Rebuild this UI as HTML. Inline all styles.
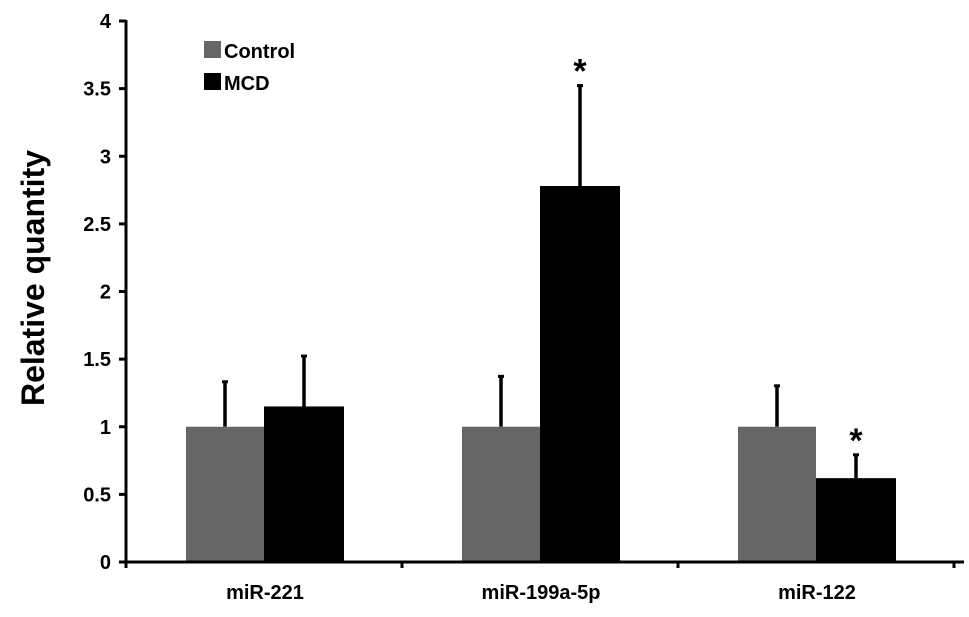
<!DOCTYPE html>
<html><head><meta charset="utf-8"><style>body{margin:0;background:#fff}svg{display:block}text{font-family:"Liberation Sans",Arial,sans-serif;font-weight:bold}</style></head>
<body>
<svg id="chart" width="969" height="617" xmlns="http://www.w3.org/2000/svg">
<text transform="translate(44,278) rotate(-90)" text-anchor="middle" font-size="32">Relative quantity</text>
<g id="plot"></g>
<g>
<rect x="204" y="41" width="17" height="17" fill="#666"/>
<text x="224" y="58" font-size="20">Control</text>
<rect x="204" y="73" width="17" height="17" fill="#000"/>
<text x="224" y="90" font-size="20">MCD</text>
</g>
</svg>
<script>
const categories=["miR-221","miR-199a-5p","miR-122"];
const controlVals=[1,1,1];
const controlErr=[0.34,0.38,0.31];
const mcdVals=[1.15,2.78,0.62];
const mcdErr=[0.38,0.75,0.18];
const sig=[false,true,true];
const yTicks=[0,0.5,1,1.5,2,2.5,3,3.5,4];
const yTickLabels=["0","0.5","1","1.5","2","2.5","3","3.5","4"];
const NS="http://www.w3.org/2000/svg";
const g=document.getElementById('plot');
const x0=126,y0=562,yTop=21,yMax=4,groupW=276;
function y(v){return y0-(v/yMax)*(y0-yTop);}
function gx(i){return x0+groupW*i;}
function mk(t,a){const e=document.createElementNS(NS,t);for(const k in a)e.setAttribute(k,a[k]);g.appendChild(e);return e;}
yTicks.forEach((v,i)=>{
 const t=mk('line',{x1:x0-7,x2:x0,y1:y(v),y2:y(v),stroke:'#000','stroke-width':3});
 
 
 const l=mk('text',{x:x0-15,y:y(v)+7,'text-anchor':'end','font-size':20});
 l.textContent=yTickLabels[i];
 
 
});
categories.forEach((c,i)=>{
 const cx=gx(i);
 const bars=[[controlVals[i],controlErr[i],'#666',cx+60,78,'bar-control'],[mcdVals[i],mcdErr[i],'#000',cx+138,80,'bar-mcd']];
 bars.forEach(b=>{
  const mid=b[3]+b[4]/2;
  const e=mk('line',{x1:mid,x2:mid,y1:y(b[0]),y2:y(b[0]+b[1]),stroke:'#000','stroke-width':3.5});
  
  
  const cap=mk('line',{x1:mid-3,x2:mid+3,y1:y(b[0]+b[1])+1,y2:y(b[0]+b[1])+1,stroke:'#000','stroke-width':3});
  
  
  const r=mk('rect',{x:b[3],y:y(b[0]),width:b[4],height:y0-y(b[0]),fill:b[2]});
  
  
  if(b[5]==='bar-mcd'&&sig[i]){
   const s=mk('text',{x:mid,y:y(b[0]+b[1])-2,'text-anchor':'middle','font-size':34});
   s.textContent='*';
   
   
  }
 });
 const l=mk('text',{x:cx+139,y:599,'text-anchor':'middle','font-size':20});
 l.textContent=c;
 
 
 const t=mk('line',{x1:gx(i+1),x2:gx(i+1),y1:y0,y2:y0+6,stroke:'#000','stroke-width':3});
 
 
});
const t0=mk('line',{x1:x0,x2:x0,y1:y0,y2:y0+6,stroke:'#000','stroke-width':3});


const ya=mk('line',{x1:x0,x2:x0,y1:yTop-1,y2:y0+1.5,stroke:'#000','stroke-width':3});


const xa=mk('line',{x1:x0-1.5,x2:gx(3)+10,y1:y0,y2:y0,stroke:'#000','stroke-width':3});


</script>
</body></html>
